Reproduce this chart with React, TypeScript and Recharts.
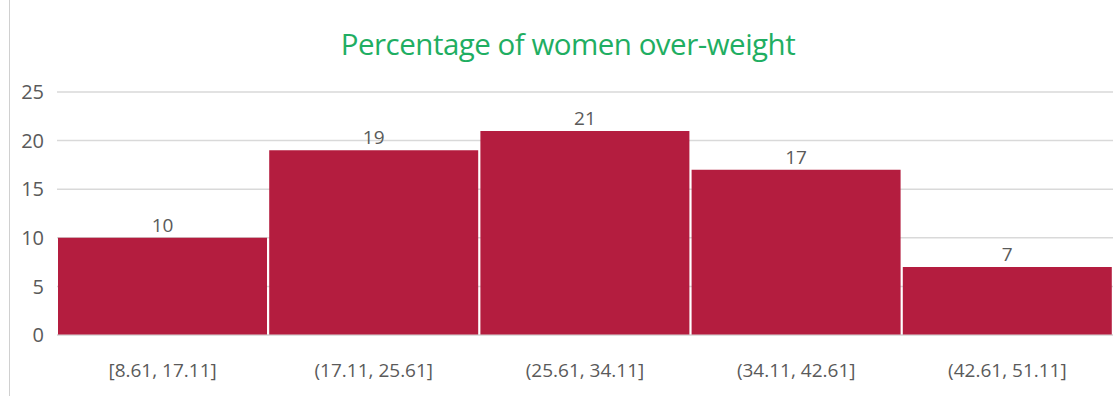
import { BarChart, Bar, XAxis, YAxis, CartesianGrid, LabelList } from "recharts";

const BINS = [
  "[8.61, 17.11]",
  "(17.11, 25.61]",
  "(25.61, 34.11]",
  "(34.11, 42.61]",
  "(42.61, 51.11]",
];
const COUNTS = [10, 19, 21, 17, 7];
const Y_TICKS = [0, 5, 10, 15, 20, 25];

const data = BINS.map((bin, i) => ({ bin, count: COUNTS[i] }));

const FONT = "'Open Sans', 'Noto Sans', sans-serif";
const TEXT_GRAY = "#5a5a5a";

export default function App() {
  return (
    <div
      style={{
        position: "absolute",
        left: 0,
        top: 0,
        width: 1119,
        height: 396,
        background: "#fff",
        fontFamily: FONT,
      }}
    >
      {/* thin frame edge on the left */}
      <div
        style={{
          position: "absolute",
          left: 9,
          top: 0,
          width: 1,
          height: 396,
          background: "#d0d0d0",
        }}
      />
      <div
        style={{
          position: "absolute",
          left: 0,
          top: 23,
          width: 1136,
          textAlign: "center",
          fontSize: 29.5,
          color: "#1fae62",
          letterSpacing: -0.5,
        }}
      >
        Percentage of women over-weight
      </div>
      <BarChart
        width={1119}
        height={396}
        data={data}
        margin={{ top: 92, right: 6, bottom: 31, left: 0 }}
        barCategoryGap={1}
      >
        <CartesianGrid vertical={false} stroke="#d9d9d9" strokeWidth={1.5} />
        <XAxis
          dataKey="bin"
          height={30}
          axisLine={{ stroke: "#d9d9d9" }}
          tickLine={false}
          tickMargin={23}
          tick={{ fill: TEXT_GRAY, fontSize: 19, fontFamily: FONT }}
        />
        <YAxis
          width={57}
          domain={[0, 25]}
          ticks={Y_TICKS}
          axisLine={false}
          tickLine={false}
          tickSize={0}
          tickMargin={13}
          tick={{ fill: TEXT_GRAY, fontSize: 20, fontFamily: FONT }}
        />
        <Bar dataKey="count" fill="#b41d3f" isAnimationActive={false}>
          <LabelList
            dataKey="count"
            position="top"
            offset={6}
            fill={TEXT_GRAY}
            fontSize={19}
            fontFamily={FONT}
          />
        </Bar>
      </BarChart>
    </div>
  );
}
